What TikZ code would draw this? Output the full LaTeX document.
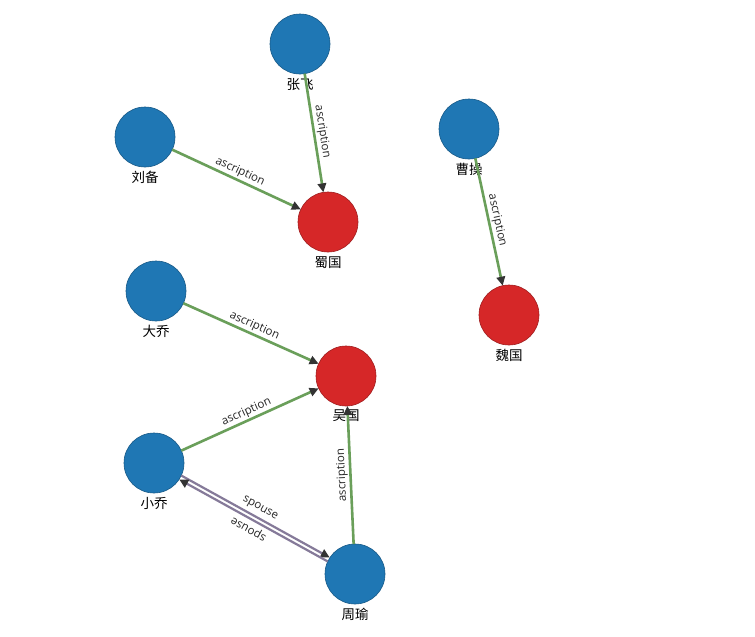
\documentclass[tikz,border=0pt]{standalone}
\usepackage{fontspec}
\setmainfont{Open Sans}
\newfontfamily\cjk{Noto Sans CJK SC}
\usetikzlibrary{arrows.meta,calc}
\definecolor{nblue}{HTML}{1F77B4}
\definecolor{nred}{HTML}{D62728}
\definecolor{egreen}{HTML}{6A9F5A}
\definecolor{epurple}{HTML}{857A99}
\definecolor{tipc}{HTML}{333333}
\begin{document}
\begin{tikzpicture}[x=1pt,y=-1pt,
  ent/.style={circle,minimum size=60pt,inner sep=0pt,outer sep=0pt,
    draw=#1!75!black,fill=#1,line width=0.6pt},
  nlab/.style={font=\cjk\fontsize{13.5}{15}\selectfont,inner sep=0pt,text=black,label distance=4pt},
  rel/.style={draw=egreen,line width=2.6pt,
    -{Triangle[length=9pt,width=8.5pt,color=tipc]}},
  srel/.style={draw=epurple,line width=2.2pt,
    -{Triangle[length=9pt,width=8.5pt,color=tipc]}},
  elab/.style={font=\fontsize{11.5}{13}\selectfont,text=black!85,inner sep=1.5pt}]
\useasboundingbox[fill=white] (0,0) rectangle (755,637);
% nodes
\node[ent=nblue,label={[nlab]below:张飞}] (zf) at (300,44) {};
\node[ent=nblue,label={[nlab]below:刘备}] (lb) at (145,137) {};
\node[ent=nred,label={[nlab]below:蜀国}] (shu) at (328,222) {};
\node[ent=nblue,label={[nlab]below:曹操}] (cc) at (469,129) {};
\node[ent=nred,label={[nlab]below:魏国}] (wei) at (509,315) {};
\node[ent=nblue,label={[nlab]below:大乔}] (dq) at (156,291) {};
\node[ent=nred,label={[nlab]below:吴国}] (wu) at (346,376) {};
\node[ent=nblue,label={[nlab]below:小乔}] (xq) at (154,463) {};
\node[ent=nblue,label={[nlab]below:周瑜}] (zy) at (355,574) {};
% edges
\draw[rel] (zf) -- node[midway,sloped,above,elab]{ascription} (shu);
\draw[rel] (lb) -- node[midway,sloped,above,elab]{ascription} (shu);
\draw[rel] (cc) -- node[midway,sloped,above,elab]{ascription} (wei);
\draw[rel] (dq) -- node[midway,sloped,above,elab]{ascription} (wu);
\draw[rel] (xq) -- node[midway,sloped,above,elab]{ascription} (wu);
\draw[rel] (zy) -- node[midway,sloped,allow upside down,above,elab]{ascription} (wu);
% spouse pair
\coordinate (s1a) at ($(xq.center)!2.2pt!90:(zy.center)$);
\coordinate (s1b) at ($(zy.center)!2.2pt!-90:(xq.center)$);
\coordinate (s2a) at ($(zy.center)!2.2pt!90:(xq.center)$);
\coordinate (s2b) at ($(xq.center)!2.2pt!-90:(zy.center)$);
\draw[srel,shorten <=30pt,shorten >=30pt] (s1a) -- node[midway,sloped,above=2pt,elab]{spouse} (s1b);
\draw[srel,shorten <=30pt,shorten >=30pt] (s2a) -- node[midway,sloped,allow upside down,above=2pt,elab]{spouse} (s2b);
\end{tikzpicture}
\end{document}
